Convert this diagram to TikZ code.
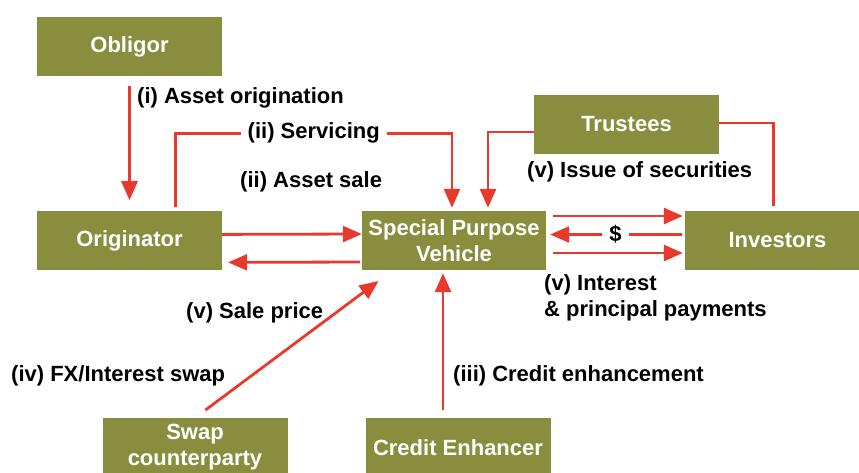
\documentclass[tikz,border=0pt]{standalone}
\usepackage{fontspec}
\setmainfont{Liberation Sans}
\usepackage{tikz}
\usetikzlibrary{positioning,calc,arrows.meta}

\definecolor{boxgreen}{RGB}{137,142,62}
\definecolor{flowred}{RGB}{232,58,44}

\begin{document}
\begin{tikzpicture}[x=1pt,y=-1pt]
            \tikzstyle{party}=[fill=boxgreen, text=white, font=\bfseries\fontsize{22}{26}\selectfont, align=center, minimum width=185pt, minimum height=59pt, inner sep=1pt]
            \tikzstyle{flow}=[draw=flowred, line width=2.8pt, -{Triangle[length=19pt,width=16pt]}]
            \tikzstyle{plain}=[draw=flowred, line width=2.8pt]
            \tikzstyle{lbl}=[font=\bfseries\fontsize{22}{26}\selectfont, align=left, inner sep=0pt]

            \useasboundingbox (0,0) rectangle (859,472);

            \node[party] (obligor) at (129.5,46.5) {Obligor};
            \node[party, below=135pt of obligor] (originator) {Originator};
            \node[party, minimum width=184pt] (spv) at (454,240.5) {Special Purpose\\Vehicle};
            \node[party] (trustees) at (626.5,124.5) {Trustees};
            \node[party] (investors) at (777.5,240.5) {Investors};
            \node[party] (swap) at (195,447.5) {Swap\\counterparty};
            \node[party] (enhancer) at (458,447.5) {Credit Enhancer};

            \draw[flow, shorten <=10pt, shorten >=11pt] (obligor) -- (originator);
            \draw[flow, shorten <=4pt, shorten >=3pt] ([xshift=46pt]originator.north) -- ++(0,-78)
                -| node[pos=0.25, lbl, fill=white, inner xsep=7pt, inner ysep=2pt] {(ii) Servicing} ([xshift=-2pt]spv.north);
            \draw[flow, shorten >=3pt] ([yshift=-7.5pt]trustees.west) -| ([xshift=34pt]spv.north);
            \draw[plain, shorten >=5pt] ([yshift=1.5pt]trustees.east) -| ([xshift=-4pt]investors.north);

            \draw[flow] ([yshift=6.5pt]originator.east) -- ([yshift=6.5pt]spv.west);
            \draw[flow, shorten <=2pt, shorten >=6pt] ([yshift=-21.5pt]spv.west) -- ([yshift=-21.5pt]originator.east);

            \draw[flow, shorten <=7pt, shorten >=2pt] ([yshift=24.5pt]spv.east) -- ([yshift=24.5pt]investors.west);
            \draw[flow, shorten <=3pt, shorten >=4pt] ([yshift=6pt]investors.west)
                -- node[lbl, fill=white, inner xsep=7pt, inner ysep=2pt] {\$} ([yshift=6pt]spv.east);
            \draw[flow, shorten <=7pt, shorten >=2pt] ([yshift=-12.5pt]spv.east) -- ([yshift=-12.5pt]investors.west);

            \draw[flow, shorten <=13pt, shorten >=18pt] (swap.north) -- ([xshift=-61pt]spv.south);
            \draw[flow, shorten <=8pt, shorten >=3pt] ([xshift=-15pt]enhancer.north) -- ([xshift=-15pt]enhancer.north |- spv.south);

            \node[lbl, anchor=base west] (originationlbl) at (137,103) {(i) Asset origination};
            \node[lbl, anchor=base west] (assetsalelbl) at (240,187) {(ii) Asset sale};
            \node[lbl, anchor=base west] (issuelbl) at (527,177) {(v) Issue of securities};
            \node[lbl, anchor=base west] (paymentslbl) at (544,316) {(v) Interest\\\& principal payments};
            \node[lbl, anchor=base west] (salepricelbl) at (186,318) {(v) Sale price};
            \node[lbl, anchor=base west] (swaplbl) at (11,381) {(iv) FX/Interest swap};
            \node[lbl, anchor=base west] (enhancementlbl) at (453,381) {(iii) Credit enhancement};
\end{tikzpicture}
\end{document}
